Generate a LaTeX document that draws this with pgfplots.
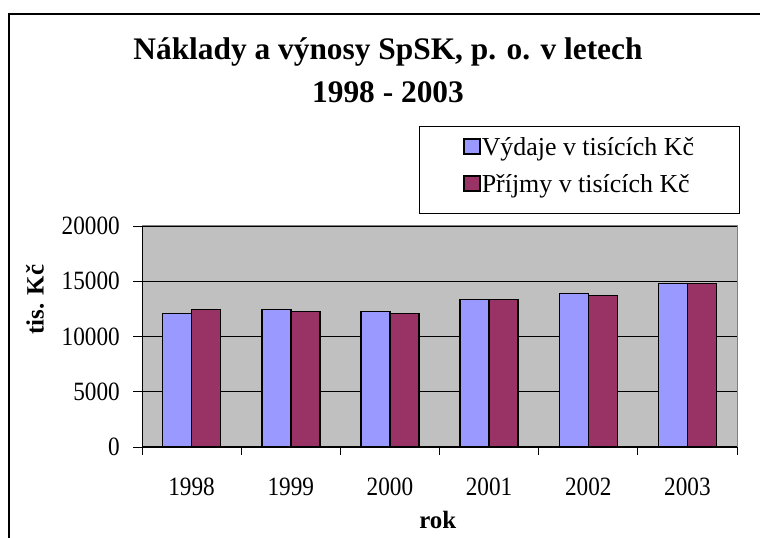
\documentclass[border=0pt]{standalone}
\usepackage{fontspec}
\setmainfont{Liberation Serif}
\newfontfamily\tickfont{Liberation Serif}[FakeStretch=0.88]
\usepackage{pgfplots}
\pgfplotsset{compat=1.18}

\definecolor{vydaje}{HTML}{9999FF}
\definecolor{prijmy}{HTML}{993366}
\definecolor{plotgray}{HTML}{C0C0C0}

\pgfplotstableread{
x vydaje prijmy
0 12100 12460
1 12460 12280
2 12280 12100
3 13360 13360
4 13900 13690
5 14800 14800
}\naklady

\begin{document}
\begin{tikzpicture}[x=1bp,y=1bp]
\path[use as bounding box] (0,0) rectangle (760,538);
\draw[line width=1.5bp] (9,0) -- (9,524) -- (760,524);
\node[font=\fontsize{31.5}{36}\bfseries\selectfont,anchor=base] at (388,478) {Náklady a výnosy SpSK, p. o. v letech};
\node[font=\fontsize{31.5}{36}\bfseries\selectfont,anchor=base] at (388,435) {1998 - 2003};
\begin{axis}[
    at={(142bp,91bp)}, anchor=south west,
    scale only axis,
    width=595bp, height=221bp,
    ybar=0pt, bar width=29bp,
    xmin=-0.5, xmax=5.5,
    ymin=0, ymax=20000,
    xtick={0,...,5},
    xticklabels={1998,1999,2000,2001,2002,2003},
    minor xtick={-0.5,0.5,...,5.5},
    major x tick style={draw=none},
    minor x tick style={black,line width=0.8bp},
    minor tick length=8bp,
    ytick={0,5000,...,20000},
    major tick length=9bp,
    tick align=outside,
    y tick style={black,line width=0.8bp},
    scaled y ticks=false,
    ticklabel style={font=\tickfont\fontsize{26.5}{30}\selectfont},
    xticklabel style={anchor=base,yshift=-40bp},
    yticklabel style={anchor=east,inner xsep=0pt,xshift=-13bp,
        /pgf/number format/.cd,set thousands separator={},assume math mode=true},
    ymajorgrids,
    grid style={black,line width=0.7bp},
    axis x line*=bottom, axis y line*=left,
    axis line style={black,line width=1bp,-},
    axis background/.style={fill=plotgray,draw=gray,line width=1bp},
    xlabel={\bfseries rok},
    ylabel={\bfseries tis. Kč},
    label style={font=\fontsize{25}{29}\selectfont},
    xlabel style={at={(axis description cs:0.497,-0.371)},anchor=base},
    ylabel style={at={(axis description cs:-0.180,0.667)},anchor=center},
    legend style={at={(axis description cs:0.4655,1.4525)},anchor=north west,
        draw=black,line width=0.8bp,inner xsep=44bp,inner ysep=10.5bp,
        font=\fontsize{26}{30}\selectfont,row sep=8bp,
        nodes={inner xsep=1bp,inner ysep=0pt,text height=19bp,text depth=10bp}},
    legend cell align=left,
    legend image code/.code={\draw[#1,line width=1.4bp] (0bp,-2.5bp) rectangle (16bp,12.5bp);},
]
\addplot[fill=vydaje,draw=black,line width=1.5bp] table[x=x,y=vydaje]{\naklady};
\addlegendentry{Výdaje v tisících Kč}
\addplot[fill=prijmy,draw=black,line width=1.5bp] table[x=x,y=prijmy]{\naklady};
\addlegendentry{Příjmy v tisících Kč}
\end{axis}
\end{tikzpicture}
\end{document}
